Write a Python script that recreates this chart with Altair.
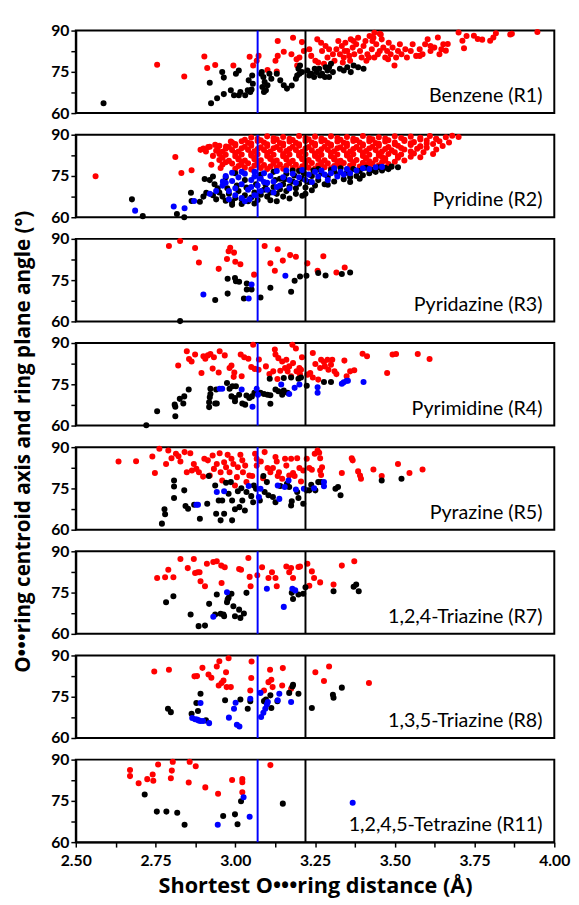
import altair as alt
import pandas as pd

panel_names = ["Benzene (R1)", "Pyridine (R2)", "Pyridazine (R3)", "Pyrimidine (R4)",
               "Pyrazine (R5)", "1,2,4-Triazine (R7)", "1,3,5-Triazine (R8)",
               "1,2,4,5-Tetrazine (R11)"]
cutoffs = [3.07, 3.22]
cutoff_colors = ["blue", "black"]
x_ticks = [2.5, 2.625, 2.75, 2.875, 3.0, 3.125, 3.25, 3.375, 3.5, 3.625, 3.75, 3.875, 4.0]
y_ticks = [60, 67.5, 75, 82.5, 90]

# ---------- Benzene (R1)
R1_red = [(2.755,77.6),(2.840,73.3),(2.903,80.6),(2.912,76.4),(2.937,77.5),(2.994,77.3),(3.045,80.5),(3.056,77.3),
          (3.073,80.8),(3.067,79.0),(3.101,75.7),(3.130,75.1),(3.133,86.2),(3.126,79.0),(3.133,80.8),(3.152,82.3),
          (3.181,87.4),(3.176,81.4),(3.192,79.6),(3.194,77.3),(3.209,85.8),(3.201,80.2),(3.215,82.6),
          (3.232,83.2),(3.238,80.8),(3.251,79.0),(3.257,86.8),(3.269,85.6),(3.272,82.6),(3.278,77.9),(3.289,80.2),
          (3.294,83.2),(3.306,81.4),(3.311,79.0),(3.317,83.2),(3.328,81.4),(3.334,84.4),(3.340,80.2),(3.345,85.6),
          (3.351,82.6),(3.357,80.8),(3.362,86.8),(3.368,83.8),(3.373,81.4),(3.379,85.0),(3.385,87.4),(3.391,82.6),
          (3.396,80.2),(3.402,84.4),(3.408,86.2),(3.414,81.4),(3.421,88.0),(3.428,83.2),(3.430,86.2),(3.436,89.2),
          (3.442,85.0),(3.447,81.4),(3.453,88.8),(3.459,86.8),(3.464,83.8),(3.470,80.2),(3.476,82.6),(3.481,85.6),
          (3.487,81.4),(3.493,83.8),(3.499,77.3),(3.504,80.2),(3.510,82.6),(3.516,85.0),(3.521,81.4),(3.533,83.2),
          (3.538,80.2),(3.550,82.6),(3.556,85.0),(3.567,80.8),(3.578,83.2),(3.587,81.4),(3.595,85.0),(3.603,86.8),
          (3.612,82.6),(3.624,83.8),(3.635,87.5),(3.640,81.4),(3.652,85.0),(3.660,82.7),(3.666,85.1),(3.700,89.3),
          (3.712,86.3),(3.717,83.6),(3.725,88.0),(3.748,88.1),(3.760,86.9),(3.774,86.7),(3.799,86.3),(3.809,87.5),
          (3.817,89.0),(3.862,88.6),(3.867,88.8),(3.947,89.5),
          (3.283,84.4),(3.323,86.2),(3.360,79.0),(3.411,79.0),(3.419,80.2),(3.436,80.2),(3.453,82.6),(3.479,79.6),
          (3.433,87.4),(3.456,88.6),(3.343,82.6),(3.371,86.2),(3.337,78.4),(3.260,78.4),(3.578,80.8),(3.612,84.4),
          (3.646,83.2)]
R1_black = [(2.587,63.6),(2.924,63.6),(2.943,65.4),(2.964,66.9),(2.920,71.0),(2.959,74.9),(2.964,72.9),(2.986,68.3),
            (2.996,66.5),(3.011,66.5),(3.016,67.7),(3.031,66.5),(3.039,68.3),(3.047,67.7),(3.051,68.6),(3.002,74.3),
            (3.011,75.5),(3.042,71.9),(3.053,73.7),(3.055,70.7),(3.081,74.3),(3.088,73.1),(3.092,71.3),(3.085,69.5),
            (3.090,67.7),(3.101,70.1),(3.107,74.3),(3.113,72.5),(3.096,68.3),(3.083,74.9),(3.130,74.3),(3.141,71.9),
            (3.152,70.1),(3.162,68.9),(3.177,70.0),(3.190,72.5),(3.194,73.7),(3.198,76.1),(3.203,77.3),(3.201,74.3),
            (3.209,74.9),(3.226,75.5),(3.238,74.3),(3.247,73.1),(3.255,74.9),(3.263,76.1),(3.272,74.3),(3.281,73.1),
            (3.289,75.5),(3.294,76.7),(3.300,77.9),(3.306,74.9),(3.283,76.7),(3.266,73.7),(3.249,76.1),(3.232,73.7),
            (3.294,73.1),(3.328,76.1),(3.340,75.5),(3.351,76.7),(3.362,74.9),(3.371,77.3),(3.385,76.7),(3.402,76.1)]
R1_blue = []

# ---------- Pyridine (R2)
R2_red = [(2.562,74.9),(2.812,81.9),(2.831,76.1),(2.863,77.1),(2.891,84.5),(2.908,83.9),(2.925,79.1),(2.937,86.3),
          (2.954,77.9),(2.971,85.7),(2.986,87.5),(2.900,85.0),(2.915,85.5),(2.945,84.5),
          (3.00,77.6),(3.03,78.0),(3.05,77.4),(3.08,77.9),(3.10,77.5),(3.13,78.1),(3.15,77.6),(3.18,77.9),(3.20,77.4),
          (3.23,78.0),(3.25,77.7),(3.28,78.2),(3.30,77.8),(3.33,78.3),(3.36,78.0),(3.39,78.4),(3.42,78.6),(3.45,78.9),
          (3.48,79.3),
          (3.01,78.6),(3.06,78.8),(3.11,78.4),(3.16,78.7),(3.21,78.5),(3.26,78.9),(3.31,78.6),(3.36,78.8),(3.41,79.0),
          (2.96,79.2),(2.99,79.5),(3.02,79.1),(3.04,79.6),(3.07,79.3),(3.09,79.0),(3.12,79.5),(3.14,79.2),(3.17,79.6),
          (3.19,79.1),(3.22,79.4),(3.24,79.7),(3.27,79.3),(3.29,79.6),(3.32,79.2),(3.34,79.7),(3.37,79.4),(3.40,79.8),
          (3.43,79.5),(3.46,80.0),(3.50,80.2),(3.53,80.6),
          (2.97,80.0),(3.02,80.2),(3.07,79.9),(3.12,80.3),(3.17,80.0),(3.22,80.2),(3.27,79.9),(3.32,80.3),(3.37,80.0),
          (3.42,80.3),(3.47,80.6),
          (2.95,80.8),(2.98,80.5),(3.01,81.0),(3.03,80.6),(3.06,81.1),(3.08,80.7),(3.11,81.2),(3.13,80.6),(3.16,81.0),
          (3.18,80.5),(3.21,81.1),(3.23,80.8),(3.26,81.2),(3.28,80.7),(3.31,81.0),(3.33,80.5),(3.36,81.1),(3.38,80.8),
          (3.41,81.3),(3.44,80.9),(3.47,81.4),(3.51,81.6),(3.55,82.0),(3.58,81.8),
          (2.96,81.6),(3.01,81.4),(3.06,81.8),(3.11,81.5),(3.16,81.7),(3.21,81.4),(3.26,81.8),(3.31,81.5),(3.36,81.7),
          (3.41,81.5),(3.46,81.9),(3.51,82.2),
          (2.93,82.3),(2.97,82.7),(3.00,82.2),(3.02,82.8),(3.05,82.4),(3.07,82.9),(3.10,82.3),(3.12,82.7),(3.15,82.2),
          (3.17,82.8),(3.20,82.4),(3.22,82.9),(3.25,82.3),(3.27,82.7),(3.30,82.2),(3.32,82.8),(3.35,82.4),(3.37,82.9),
          (3.40,82.3),(3.42,82.7),(3.45,82.5),(3.48,83.0),(3.52,82.8),(3.56,83.2),(3.59,83.6),(3.62,83.0),
          (2.95,83.0),(3.00,83.3),(3.05,83.1),(3.10,83.4),(3.15,83.0),(3.20,83.3),(3.25,83.1),(3.30,83.4),(3.35,83.0),
          (3.40,83.3),(3.45,83.2),(3.50,83.6),(3.55,83.9),
          (2.94,84.2),(2.96,83.8),(2.99,84.4),(3.01,83.9),(3.04,84.5),(3.06,84.0),(3.09,84.4),(3.11,83.9),(3.14,84.5),
          (3.16,84.1),(3.19,84.4),(3.21,83.8),(3.24,84.3),(3.26,83.9),(3.29,84.5),(3.31,84.0),(3.34,84.4),(3.36,83.9),
          (3.39,84.5),(3.41,84.1),(3.44,84.4),(3.46,83.9),(3.49,84.3),(3.53,84.6),(3.57,84.9),(3.60,85.3),(3.63,84.6),
          (2.97,84.9),(3.02,85.1),(3.07,84.8),(3.12,85.1),(3.17,84.8),(3.22,85.0),(3.27,84.7),(3.32,85.1),(3.37,84.8),
          (3.42,85.0),(3.47,84.8),(3.52,85.2),(3.58,85.7),
          (2.92,85.6),(2.95,86.0),(2.98,85.5),(3.00,86.1),(3.03,85.6),(3.05,86.0),(3.08,85.4),(3.10,85.9),(3.13,85.5),
          (3.15,86.1),(3.18,85.6),(3.20,86.0),(3.23,85.5),(3.25,86.1),(3.28,85.6),(3.30,86.0),(3.33,85.4),(3.35,85.9),
          (3.38,85.5),(3.40,86.1),(3.43,85.6),(3.45,86.0),(3.48,85.5),(3.51,86.0),(3.55,86.3),(3.58,85.8),(3.62,86.6),
          (3.65,85.9),
          (3.00,86.6),(3.05,86.8),(3.10,86.5),(3.15,86.8),(3.20,86.5),(3.25,86.7),(3.30,86.4),(3.35,86.8),(3.40,86.5),
          (3.45,86.7),(3.50,86.5),(3.55,86.9),(3.60,86.8),
          (2.99,87.2),(3.02,87.6),(3.04,87.1),(3.07,87.7),(3.09,87.2),(3.12,87.6),(3.14,87.0),(3.17,87.5),(3.19,87.1),
          (3.22,87.7),(3.24,87.2),(3.27,87.6),(3.29,87.0),(3.32,87.5),(3.34,87.1),(3.37,87.7),(3.39,87.2),(3.42,87.6),
          (3.44,87.0),(3.47,87.5),(3.50,87.2),(3.53,87.7),(3.56,87.3),(3.60,87.9),(3.64,87.6),(3.67,87.2),
          (3.03,88.2),(3.08,88.0),(3.13,88.3),(3.18,88.1),(3.23,88.3),(3.28,88.0),(3.33,88.2),(3.38,88.1),(3.43,88.3),
          (3.48,88.0),(3.53,88.2),(3.58,88.3),(3.63,88.4),
          (3.05,89.0),(3.07,88.5),(3.10,89.4),(3.12,88.7),(3.15,89.2),(3.17,88.5),(3.20,89.5),(3.22,88.8),(3.25,89.3),
          (3.27,88.6),(3.30,89.4),(3.32,88.8),(3.35,89.2),(3.37,88.5),(3.40,89.5),(3.42,88.7),(3.45,89.1),(3.47,88.6),
          (3.50,89.4),(3.52,88.8),(3.55,89.3),(3.58,88.9),(3.61,89.5),(3.63,88.5),(3.66,89.1),(3.68,89.6),(3.70,89.2)]
R2_black = [(2.676,66.5),(2.710,60.4),(2.817,61.2),(2.840,60.0),(2.863,65.9),(2.889,65.6),(2.861,68.9),(2.904,73.9),
            (2.909,68.9),(2.930,74.8),(2.920,73.5),(2.935,72.0),(2.945,70.5),(2.950,69.0),(2.900,67.5),
            (2.96,67.5),(2.97,66.0),(2.98,68.5),(2.99,65.5),(3.00,67.0),(3.01,69.5),(3.02,66.5),(3.03,68.0),(3.04,65.8),
            (3.05,67.2),(3.06,69.0),(3.07,66.3),(3.08,68.2),(3.09,70.0),(3.10,67.5),(3.11,69.0),(3.12,71.0),(3.13,68.5),
            (3.14,70.2),(3.15,72.0),(3.16,69.5),(3.17,71.2),(3.18,73.0),(3.19,70.5),(3.20,72.2),(3.21,74.0),(3.22,70.8),
            (3.23,72.8),(3.24,75.0),(3.25,71.5),
            (2.97,74.5),(3.00,76.0),(3.03,73.5),(3.08,75.5),(3.12,76.5),(3.16,75.8),(3.20,76.8),(3.18,77.0),(3.14,74.0),
            (3.26,73.5),(3.27,76.0),(3.28,72.0),(3.29,74.8),(3.30,77.2),(3.31,73.0),(3.32,75.5),(3.33,77.8),(3.34,73.8),
            (3.35,76.2),(3.36,74.5),(3.37,77.5),(3.38,75.0),(3.39,76.8),(3.40,75.3),(3.41,78.0),(3.42,76.0),(3.43,77.2),
            (3.44,76.5),(3.45,78.2),(3.46,77.0),(3.47,78.0),(3.48,77.5),(3.49,78.4),(3.51,78.2),(3.26,77.5),(3.29,71.8),
            (3.31,76.8),(3.36,72.8),(3.39,74.0),(3.22,68.5),(3.24,69.8),(3.19,68.5),(3.15,67.5),(3.11,66.2),(3.06,65.0),
            (3.02,64.8),(2.99,64.5),(3.13,65.8),(3.17,66.8),(3.21,67.8),(2.94,66.5),(2.93,68.0),(2.975,70.5),
            (3.005,71.5),(3.035,70.8),(3.065,72.0),(3.095,71.8),(3.125,73.5),(3.155,73.8),(3.185,75.2),(3.215,76.0),
            (3.245,77.0)]
R2_blue = [(2.686,62.4),(2.807,63.9),(2.841,63.3),(2.871,65.9),(2.920,68.5),(2.940,69.5),(2.961,73.0),
           (2.96,71.5),(2.97,75.0),(2.98,69.5),(2.99,73.2),(3.00,70.5),(3.01,74.5),(3.02,72.0),(3.03,75.8),(3.04,70.0),
           (3.05,73.5),(3.06,76.5),(3.07,71.5),(3.08,74.0),(3.09,76.0),(3.10,72.5),(3.11,75.0),(3.12,73.0),(3.13,76.8),
           (3.14,71.5),(3.15,74.5),(3.16,77.0),(3.17,73.5),(3.18,75.8),(3.19,72.5),(3.20,74.5),(3.21,77.2),(3.22,73.5),
           (3.23,75.5),(3.24,72.8),(3.25,76.5),(3.26,74.8),(3.27,77.0),(3.28,75.5),(3.29,73.5),(3.30,76.0),(3.31,77.8),
           (3.32,74.8),(3.33,76.5),(3.34,75.5),(3.35,77.5),(3.36,76.0),(3.38,77.0),(3.40,77.8),(3.42,77.5),(3.44,78.2),
           (3.46,78.3),
           (2.98,66.5),(3.02,67.0),(3.03,65.8),(3.045,66.5),(3.06,68.0),(3.08,69.5),(3.10,70.0),(3.12,69.0),(3.00,68.0),
           (3.05,71.0),(3.13,71.0),(3.17,70.5),(2.97,72.5),(3.09,72.8),(3.02,76.5),(2.99,76.2),(3.06,74.8)]

# ---------- Pyridazine (R3)
R3_red = [(2.792,87.4),(2.827,89.2),(2.874,86.7),(2.886,81.4),(2.948,79.1),(2.974,82.7),(2.979,85.5),(2.984,86.8),
          (2.996,85.0),(3.000,81.7),(3.016,80.8),(3.059,77.0),(3.092,87.4),(3.110,81.1),(3.124,78.4),(3.133,86.2),
          (3.149,82.1),(3.172,84.1),(3.190,83.5),(3.226,81.1),(3.258,78.4),(3.276,83.7),(3.317,77.8),(3.343,79.6)]
R3_black = [(2.827,60.1),(2.937,67.8),(2.976,70.1),(2.976,75.5),(2.999,75.8),(3.002,74.6),(3.012,74.4),(3.027,68.3),
            (3.036,73.8),(3.036,71.6),(3.051,71.6),(3.079,68.7),(3.110,72.2),(3.175,70.8),(3.186,74.8),(3.203,76.3),
            (3.223,76.6),(3.260,77.6),(3.283,76.7),(3.334,77.2),(3.360,77.8)]
R3_blue = [(2.900,69.8),(3.042,68.3),(3.051,73.4),(3.157,76.6)]

# ---------- Pyrimidine (R4)
R4_red = [(2.821,81.8),(2.848,87.0),(2.855,84.2),(2.863,83.3),(2.874,85.8),(2.894,79.1),(2.900,85.2),(2.906,84.3),
          (2.914,85.5),(2.922,86.0),(2.929,80.7),(2.933,84.8),(2.948,79.3),(2.951,87.0),(2.967,85.5),(2.982,80.9),
          (2.988,81.8),(2.995,77.7),(2.997,79.3),(3.017,85.8),(3.020,77.9),(3.028,84.8),(3.041,84.3),(3.050,81.3),
          (3.056,89.4),(3.061,80.6),(3.074,84.0),(3.073,80.3),(3.096,81.5),(3.107,78.7),(3.119,79.7),(3.124,87.6),
          (3.126,85.8),(3.132,76.9),(3.135,84.5),(3.141,79.9),(3.147,83.3),(3.156,80.9),(3.160,83.9),(3.164,79.7),
          (3.169,81.5),(3.175,77.9),(3.179,89.4),(3.181,82.7),(3.190,88.0),(3.192,79.7),(3.201,80.9),(3.203,78.5),
          (3.209,84.8),(3.206,80.3),(3.226,78.5),(3.235,79.1),(3.243,86.4),(3.243,77.5),(3.251,82.4),(3.260,76.7),
          (3.266,80.9),(3.269,83.9),(3.278,83.1),(3.281,81.5),(3.289,83.9),(3.292,80.3),(3.300,82.1),(3.304,83.9),
          (3.311,79.7),(3.317,78.7),(3.342,83.6),(3.349,77.9),(3.360,79.7),(3.373,80.1),(3.399,86.1),(3.413,85.2),
          (3.476,79.1),(3.493,85.8),(3.504,86.0),(3.572,86.0),(3.609,84.2)]
R4_black = [(2.721,60.1),(2.755,65.2),(2.812,63.4),(2.810,67.6),(2.812,66.8),(2.826,69.7),(2.837,68.0),(2.840,70.6),
            (2.854,73.1),(2.918,66.7),(2.918,68.5),(2.920,70.3),(2.922,71.5),(2.922,73.4),(2.937,68.0),(2.942,68.0),
            (2.940,73.1),(2.974,75.5),(2.982,73.4),(2.988,70.6),(2.991,74.3),(2.999,70.0),(3.002,74.3),(2.999,68.8),
            (3.012,71.2),(3.022,68.0),(3.031,67.6),(3.035,70.9),(3.044,70.0),(3.052,70.6),(3.060,71.9),(3.079,71.9),
            (3.090,71.5),(3.101,71.2),(3.110,71.0),(3.110,67.9),(3.108,77.0),(3.126,73.1),(3.135,72.5),(3.147,71.2),
            (3.152,77.3),(3.152,72.7),(3.164,71.9),(3.175,77.5),(3.198,77.0),(3.206,77.5),(3.224,74.5),(3.278,75.8),
            (3.300,75.8)]
R4_blue = [(2.951,73.4),(2.959,73.4),(3.020,73.1),(3.054,66.8),(3.067,73.4),(3.071,71.2),(3.144,74.9),(3.169,71.5),
           (3.186,73.7),(3.201,74.9),(3.258,73.9),(3.258,71.9),(3.334,75.2),(3.340,75.7),(3.349,76.3),(3.353,76.3),
           (3.402,75.8)]

# ---------- Pyrazine (R5)
R5_red = [(2.634,84.8),(2.689,84.9),(2.740,86.6),(2.748,80.6),(2.762,89.4),(2.783,83.9),(2.790,88.8),(2.800,86.0),
          (2.814,87.6),(2.822,86.7),(2.828,84.8),(2.841,88.2),(2.848,80.9),(2.859,87.8),(2.864,81.5),(2.870,83.9),
          (2.878,82.1),(2.886,80.9),(2.899,79.3),(2.903,85.8),(2.914,85.2),(2.920,79.7),(2.929,87.0),(2.933,82.1),
          (2.942,83.9),(2.951,87.8),(2.954,80.9),(2.959,77.9),(2.965,84.5),(2.971,82.7),(2.976,87.2),(2.982,80.9),
          (2.988,85.8),(2.994,83.9),(2.999,76.1),(3.005,79.1),(3.008,82.7),(3.016,87.2),(3.022,85.2),(3.024,80.9),
          (3.031,83.3),(3.035,77.3),(3.044,79.7),(3.053,79.5),(3.062,87.6),(3.067,85.8),(3.067,83.3),(3.080,84.8),
          (3.087,78.7),(3.092,88.2),(3.101,82.4),(3.110,80.9),(3.118,82.4),(3.126,86.4),(3.130,84.8),(3.133,79.5),
          (3.137,80.9),(3.147,78.5),(3.156,85.8),(3.160,83.3),(3.169,79.7),(3.175,85.8),(3.181,80.6),(3.186,79.5),
          (3.194,86.0),(3.201,82.4),(3.206,77.5),(3.213,81.5),(3.224,85.8),(3.232,82.4),(3.240,81.8),(3.249,87.6),
          (3.258,88.8),(3.263,88.0),(3.266,86.0),(3.266,81.5),(3.269,79.9),(3.272,82.7),(3.334,80.6),(3.365,86.0),
          (3.368,85.2),(3.385,81.2),(3.391,79.7),(3.394,78.5),(3.433,81.9),(3.459,79.5),(3.510,83.9),(3.546,80.6),
          (3.587,81.9)]
R5_black = [(2.770,62.2),(2.778,67.4),(2.780,65.6),(2.808,77.9),(2.808,75.7),(2.808,71.5),(2.840,74.3),(2.844,68.6),
            (2.852,67.6),(2.871,69.1),(2.889,64.0),(2.912,69.4),(2.917,79.5),(2.937,76.1),(2.940,65.8),(2.948,70.6),
            (2.954,63.4),(2.959,70.6),(2.965,65.8),(2.971,77.1),(2.979,73.1),(2.986,77.3),(2.990,63.4),(2.990,70.6),
            (2.999,67.4),(3.008,74.0),(3.013,68.2),(3.019,75.1),(3.022,70.6),(3.030,67.0),(3.035,73.7),(3.050,72.2),
            (3.056,70.0),(3.058,76.1),(3.065,74.9),(3.077,70.6),(3.088,79.5),(3.092,73.7),(3.099,77.3),(3.104,72.5),
            (3.118,71.9),(3.126,70.0),(3.141,75.9),(3.162,76.7),(3.169,75.5),(3.175,68.8),(3.177,70.3),(3.194,73.7),
            (3.198,71.5),(3.213,69.4),(3.224,74.3),(3.232,74.3),(3.238,76.3),(3.251,74.3),(3.260,77.3),(3.269,77.3),
            (3.314,74.9),(3.322,75.5),(3.330,72.5),(3.459,77.9),(3.521,78.5)]
R5_blue = [(2.878,69.1),(2.883,69.1),(2.942,73.7),(2.965,74.0),(3.042,75.9),(3.074,71.9),(3.079,74.9),(3.133,76.1),
           (3.138,71.2),(3.155,75.5),(3.167,77.9),(3.190,74.6),(3.215,74.9),(3.247,75.1),(3.278,77.3),(3.278,75.8)]

# ---------- 1,2,4-Triazine (R7)
R7_red = [(2.755,80.3),(2.780,80.6),(2.790,83.3),(2.806,80.6),(2.828,87.2),(2.851,83.9),(2.870,87.2),(2.874,82.1),
          (2.882,82.4),(2.888,82.4),(2.891,79.1),(2.905,77.3),(2.911,85.5),(2.931,86.1),(2.942,86.4),(2.956,84.8),
          (2.957,78.5),(2.967,84.2),(3.012,83.6),(3.018,83.3),(3.041,87.6),(3.045,80.7),(3.048,77.3),(3.069,81.3),
          (3.084,84.2),(3.104,80.3),(3.115,82.4),(3.126,80.3),(3.130,77.3),(3.160,84.5),(3.169,82.4),(3.175,83.9),
          (3.181,80.3),(3.198,84.3),(3.203,84.5),(3.226,85.5),(3.232,77.5),(3.240,82.7),(3.247,80.3),(3.266,78.7),
          (3.308,77.9),(3.334,84.8),(3.373,86.4)]
R7_black = [(2.783,71.5),(2.806,73.7),(2.860,67.0),(2.885,62.8),(2.905,63.0),(2.918,70.9),(2.937,67.0),(2.942,74.3),
            (2.954,67.3),(2.963,67.0),(2.965,66.4),(2.974,71.5),(2.976,72.5),(2.979,73.1),(2.988,74.6),(2.994,70.0),
            (2.999,66.4),(3.012,68.8),(3.016,65.8),(3.027,67.4),(3.035,74.9),(3.177,74.9),(3.181,72.7),(3.198,74.3),
            (3.213,74.6),(3.220,76.9),(3.308,75.5),(3.371,77.1),(3.379,77.9),(3.387,75.5)]
R7_blue = [(2.931,66.2),(2.974,75.1),(3.099,76.4),(3.152,69.8),(3.179,76.4),(3.188,75.8)]

# ---------- 1,3,5-Triazine (R8)
R8_red = [(2.746,84.2),(2.792,84.8),(2.872,82.4),(2.880,82.5),(2.897,85.5),(2.916,83.1),(2.925,81.9),(2.942,86.0),
          (2.950,87.9),(2.948,79.1),(2.957,80.0),(2.963,80.9),(2.971,83.9),(2.973,78.5),(2.979,89.0),(2.986,78.5),
          (3.047,77.3),(3.050,81.8),(3.051,87.8),(3.090,77.3),(3.104,80.3),(3.109,84.8),(3.113,81.2),(3.117,78.5),
          (3.149,85.4),(3.147,79.1),(3.175,77.9),(3.251,83.9),(3.278,80.7),(3.294,86.0),(3.419,80.0)]
R8_black = [(2.789,70.6),(2.798,69.4),(2.863,68.8),(2.878,72.7),(2.883,69.8),(2.891,76.1),(2.908,66.4),(2.968,73.7),
            (3.016,74.0),(3.039,70.6),(3.047,73.4),(3.090,73.4),(3.096,74.0),(3.110,75.5),(3.113,70.9),(3.132,73.4),
            (3.169,76.4),(3.179,78.7),(3.181,79.3),(3.198,76.1),(3.240,70.9),(3.306,75.7),(3.308,74.6),(3.334,78.3)]
R8_blue = [(2.865,67.3),(2.874,66.8),(2.880,66.7),(2.885,66.4),(2.891,66.2),(2.899,66.2),(2.891,72.7),(2.918,65.4),
           (2.980,67.4),(2.996,70.6),(3.001,72.8),(3.005,64.8),(3.013,64.2),(3.047,74.3),(3.079,76.4),(3.081,67.6),
           (3.088,69.2),(3.094,70.6),(3.099,72.2),(3.102,73.1),(3.133,73.7),(3.138,76.1),(3.175,73.1)]

# ---------- 1,2,4,5-Tetrazine (R11)
R11_red = [(2.670,86.2),(2.670,84.0),(2.697,81.4),(2.724,82.9),(2.741,84.6),(2.743,82.3),(2.758,88.2),(2.798,83.2),
           (2.801,86.0),(2.804,89.2),(2.854,81.7),(2.857,89.2),(2.876,87.6),(2.906,79.9),(2.946,77.6),(2.990,82.6),
           (3.022,82.9),(3.022,81.8),(3.022,78.1),(3.110,88.0)]
R11_black = [(2.716,77.3),(2.754,71.1),(2.784,71.1),(2.818,70.7),(2.841,66.3),(2.962,69.5),(2.999,70.1),
             (3.007,66.5),(3.018,74.9),(3.149,74.0)]
R11_blue = [(2.945,66.3),(3.026,76.3),(3.045,69.2),(3.368,74.3)]

reds = [R1_red, R2_red, R3_red, R4_red, R5_red, R7_red, R8_red, R11_red]
blacks = [R1_black, R2_black, R3_black, R4_black, R5_black, R7_black, R8_black, R11_black]
blues = [R1_blue, R2_blue, R3_blue, R4_blue, R5_blue, R7_blue, R8_blue, R11_blue]

W, H = 487, 84
FONT = "Lato"
TFONT = "Open Sans"

color_scale = alt.Scale(domain=["red", "black", "blue"], range=["#ff0000", "#000000", "#0000ff"])
rules_df = pd.DataFrame({"x": cutoffs, "c": cutoff_colors})

panels = []
for i, name in enumerate(panel_names):
    rows = []
    for c, pts in (("red", reds[i]), ("black", blacks[i]), ("blue", blues[i])):
        for (x, y) in pts:
            rows.append({"x": x, "y": y, "c": c})
    d = pd.DataFrame(rows)
    last = i == len(panel_names) - 1
    if last:
        xaxis = alt.Axis(values=x_ticks, title="Shortest O•••ring distance (Å)",
                         labelExpr="(datum.value*4) % 1 == 0 ? format(datum.value, '.2f') : ''",
                         labelFlush=False, labelPadding=6, titlePadding=7, titleFontSize=22, grid=False)
    else:
        xaxis = None
    if i == 3:
        yaxis = alt.Axis(values=y_ticks, title="O•••ring centroid axis and ring plane angle (°)",
                         labelExpr="datum.value % 15 == 0 ? datum.label : ''",
                         titleY=100, titlePadding=18, titleFontSize=21, grid=False)
    else:
        yaxis = alt.Axis(values=y_ticks, title=None,
                         labelExpr="datum.value % 15 == 0 ? datum.label : ''", grid=False)
    xs = alt.Scale(domain=[2.5, 4.0], nice=False, zero=False)
    ys = alt.Scale(domain=[60, 90], nice=False, zero=False)
    pts = alt.Chart(d).mark_circle(size=38, opacity=1).encode(
        x=alt.X("x:Q", scale=xs, axis=xaxis),
        y=alt.Y("y:Q", scale=ys, axis=yaxis),
        color=alt.Color("c:N", scale=color_scale, legend=None),
    )
    rules = alt.Chart(rules_df).mark_rule(strokeWidth=2).encode(
        x=alt.X("x:Q", scale=xs),
        color=alt.Color("c:N", scale=color_scale, legend=None),
    )
    label = alt.Chart(pd.DataFrame({"t": [name]})).mark_text(
        align="right", baseline="alphabetic", font=FONT, fontSize=20, color="black"
    ).encode(x=alt.value(W - 12), y=alt.value(H - 11), text="t:N")
    panels.append(alt.layer(pts, rules, label).properties(width=W, height=H))

chart = alt.vconcat(*panels, spacing=22, bounds="flush").properties(
    padding={"left": 3, "top": 6, "right": 0, "bottom": 0}
).configure_view(stroke="black", strokeWidth=2).configure_axis(
    labelFont=FONT, labelFontWeight="bold", labelFontSize=16, labelColor="black",
    titleFont=TFONT, titleFontWeight="bold", titleColor="black",
    domainColor="black", domainWidth=2, tickColor="black", tickWidth=1.5, tickSize=5,
)

chart.save("out.html", embed_options={"renderer": "svg", "actions": False})
